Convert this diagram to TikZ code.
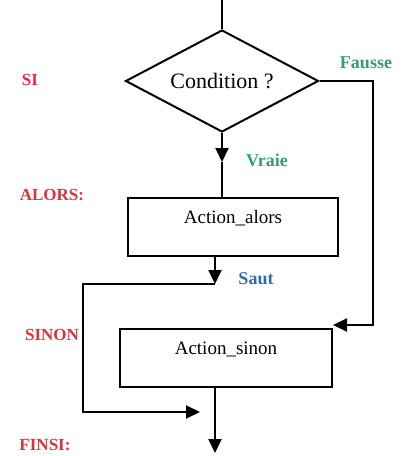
\documentclass[tikz,border=0pt]{standalone}
\usepackage{fontspec}
\setmainfont{Liberation Serif}
\usepackage{tikz}
\usetikzlibrary{arrows.meta, shapes.geometric, positioning}

\definecolor{motrouge}{HTML}{E0303A}
\definecolor{vertlabel}{HTML}{2F9E7A}
\definecolor{bleulabel}{HTML}{2A6FA8}

\tikzset{
  fleche/.style={line width=1pt,-{Triangle[length=7pt,width=6.5pt]}},
  trait/.style={line width=1pt},
  boite/.style={rectangle,draw,line width=1pt,minimum width=105pt,
                inner sep=3pt,text height=9.7pt,text depth=13.3pt,
                font=\fontsize{9.5}{11}\selectfont},
  motcle/.style={font=\fontsize{8.5}{10}\selectfont\bfseries,text=motrouge},
  branche/.style={font=\fontsize{9}{10}\selectfont\bfseries}
}

\begin{document}
\begin{tikzpicture}[x=0.5pt,y=-0.5pt]
  \useasboundingbox (0,0) rectangle (408,456);

  % mots-cles a gauche
  \node[motcle] (si) at (30,80) {SI};
  \node[motcle] (alorsmot) at (52,195) {ALORS:};
  \node[motcle] (sinonmot) at (52,335) {SINON};
  \node[motcle] (finsi) at (45,445) {FINSI:};

  % test et actions
  \coordinate (entree) at (222,0);
  \node[diamond,aspect=1.9,draw,line width=1pt,minimum width=96.5pt,
        minimum height=51pt,inner sep=0pt,font=\fontsize{11}{12}\selectfont]
        (cond) at (222,81) {Condition ?};
  \node[boite] (alors) at (233,227) {Action\_alors};
  \node[boite,minimum width=106pt] (sinon) at (226,358) {Action\_sinon};

  % points de passage
  \coordinate (v) at (222,162);
  \coordinate (s) at (215,284);
  \coordinate (retour) at (83,412);
  \coordinate (jonction) at (200,412);
  \coordinate (f) at (373,325);
  \coordinate (fin) at (333,325);
  \coordinate (sortie) at (215,453);

  \draw[trait] (entree) -- (cond.north);
  \draw[fleche] (cond.south) -- (v);
  \draw[trait] (v) -- (v |- alors.north);
  \draw[fleche] (s |- alors.south) -- (s);
  \draw[fleche] (s) -| (retour) -- (jonction);
  \draw[fleche] (cond.east) -| (f) -- (fin);
  \draw[fleche] (sortie |- sinon.south) -- (sortie);

  % etiquettes des branches
  \node[branche,text=vertlabel] (fausse) at (366,63) {Fausse};
  \node[branche,text=vertlabel] (vraie) at (267,160) {Vraie};
  \node[branche,text=bleulabel] (saut) at (256,279) {Saut};
\end{tikzpicture}
\end{document}
